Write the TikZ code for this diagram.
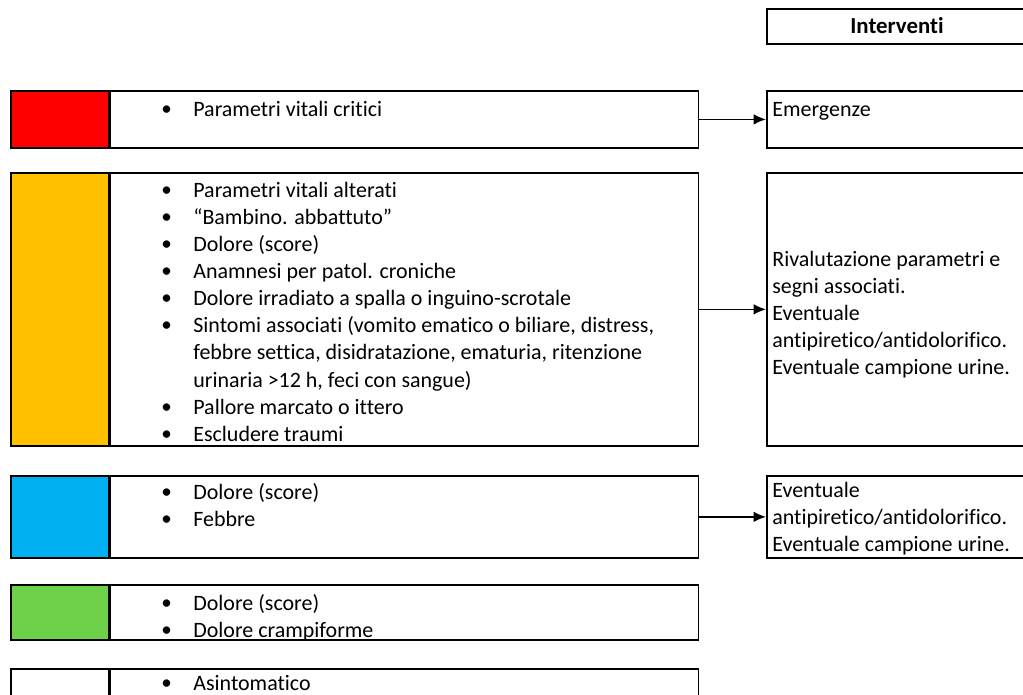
\documentclass[tikz,border=0pt]{standalone}
\usepackage{fontspec}
\setmainfont{Carlito}[Ligatures={NoCommon}]
\usepackage{tikz}
\usetikzlibrary{arrows.meta,positioning}
\definecolor{codeRed}{HTML}{FF0000}
\definecolor{codeYellow}{HTML}{FFC000}
\definecolor{codeBlue}{HTML}{00B0F0}
\definecolor{codeGreen}{HTML}{6DD14A}
\newcommand{\bul}{\makebox[0.64cm][l]{\raisebox{0.1ex}{\large\textbullet}}}

\begin{document}
\begin{tikzpicture}[x=0.02cm,y=-0.02cm,>={Latex[length=7pt,width=6pt]},
  band/.style={draw=black,line width=1pt,minimum width=1.96cm,inner sep=0pt,anchor=north west},
  body/.style={draw=black,line width=1pt,minimum width=11.76cm,inner sep=0pt},
  actbox/.style={draw=black,line width=1pt,minimum width=5.3cm,inner sep=0pt,anchor=north west},
  items/.style={anchor=north west,inner sep=0pt,align=left,font=\fontsize{12.5}{15.4}\selectfont},
  acttext/.style={inner sep=0pt,align=left,font=\fontsize{12.5}{15.4}\selectfont},
  arrow/.style={->,line width=0.9pt}]
\useasboundingbox (0,0) rectangle (1023,694);
% header
\node[actbox,minimum height=0.7cm] (head) at (766,8) {};
\node[font=\fontsize{13}{15}\selectfont\bfseries] (headt) at (897,26) {Interventi};
% red
\node[band,fill=codeRed,minimum height=1.14cm] (c1) at (10,90) {};
\node[body,minimum height=1.14cm,right=0pt of c1] (b1) {};
\node[items] (t1) at (161,101) {\bul Parametri vitali critici};
% yellow
\node[band,fill=codeYellow,minimum height=5.46cm] (c2) at (10,172) {};
\node[body,minimum height=5.46cm,right=0pt of c2] (b2) {};
\node[items] (t2) at (161,182) {\bul Parametri vitali alterati\\
\bul ``Bambino. abbattuto''\\
\bul Dolore (score)\\
\bul Anamnesi per patol. croniche\\
\bul Dolore irradiato a spalla o inguino-scrotale\\
\bul Sintomi associati (vomito ematico o biliare, distress,\\
\hspace*{0.64cm}febbre settica, disidratazione, ematuria, ritenzione\\
\hspace*{0.64cm}urinaria >12 h, feci con sangue)\\
\bul Pallore marcato o ittero\\
\bul Escludere traumi};
% blue
\node[band,fill=codeBlue,minimum height=1.64cm] (c3) at (10,475) {};
\node[body,minimum height=1.64cm,right=0pt of c3] (b3) {};
\node[items] (t3) at (161,483) {\bul Dolore (score)\\
\bul Febbre};
% green
\node[band,fill=codeGreen,minimum height=1.1cm] (c4) at (10,584) {};
\node[body,minimum height=1.1cm,right=0pt of c4] (b4) {};
\node[items] (t4) at (161,594) {\bul Dolore (score)\\
\bul Dolore crampiforme};
% white
\node[band,fill=white,minimum height=1.1cm] (c5) at (10,668) {};
\node[body,minimum height=1.1cm,right=0pt of c5] (b5) {};
\node[items] (t5) at (161,675) {\bul Asintomatico};
% interventi
\node[actbox,minimum height=1.14cm] (a1) at (766,90) {};
\node[acttext,anchor=north west] (a1t) at (772,102) {Emergenze};
\node[actbox,minimum height=5.46cm] (a2) at (766,172) {};
\node[acttext,anchor=west] (a2t) at (772,315) {Rivalutazione parametri e\\
segni associati.\\
Eventuale\\
antipiretico/antidolorifico.\\
Eventuale campione urine.};
\node[actbox,minimum height=1.64cm] (a3) at (766,475) {};
\node[acttext,anchor=north west] (a3t) at (772,482) {Eventuale\\
antipiretico/antidolorifico.\\
Eventuale campione urine.};
% connectors
\draw[arrow] (b1.east) -- (a1.west);
\draw[arrow] (b2.east) -- (a2.west);
\draw[arrow] (b3.east) -- (a3.west);
\end{tikzpicture}
\end{document}
